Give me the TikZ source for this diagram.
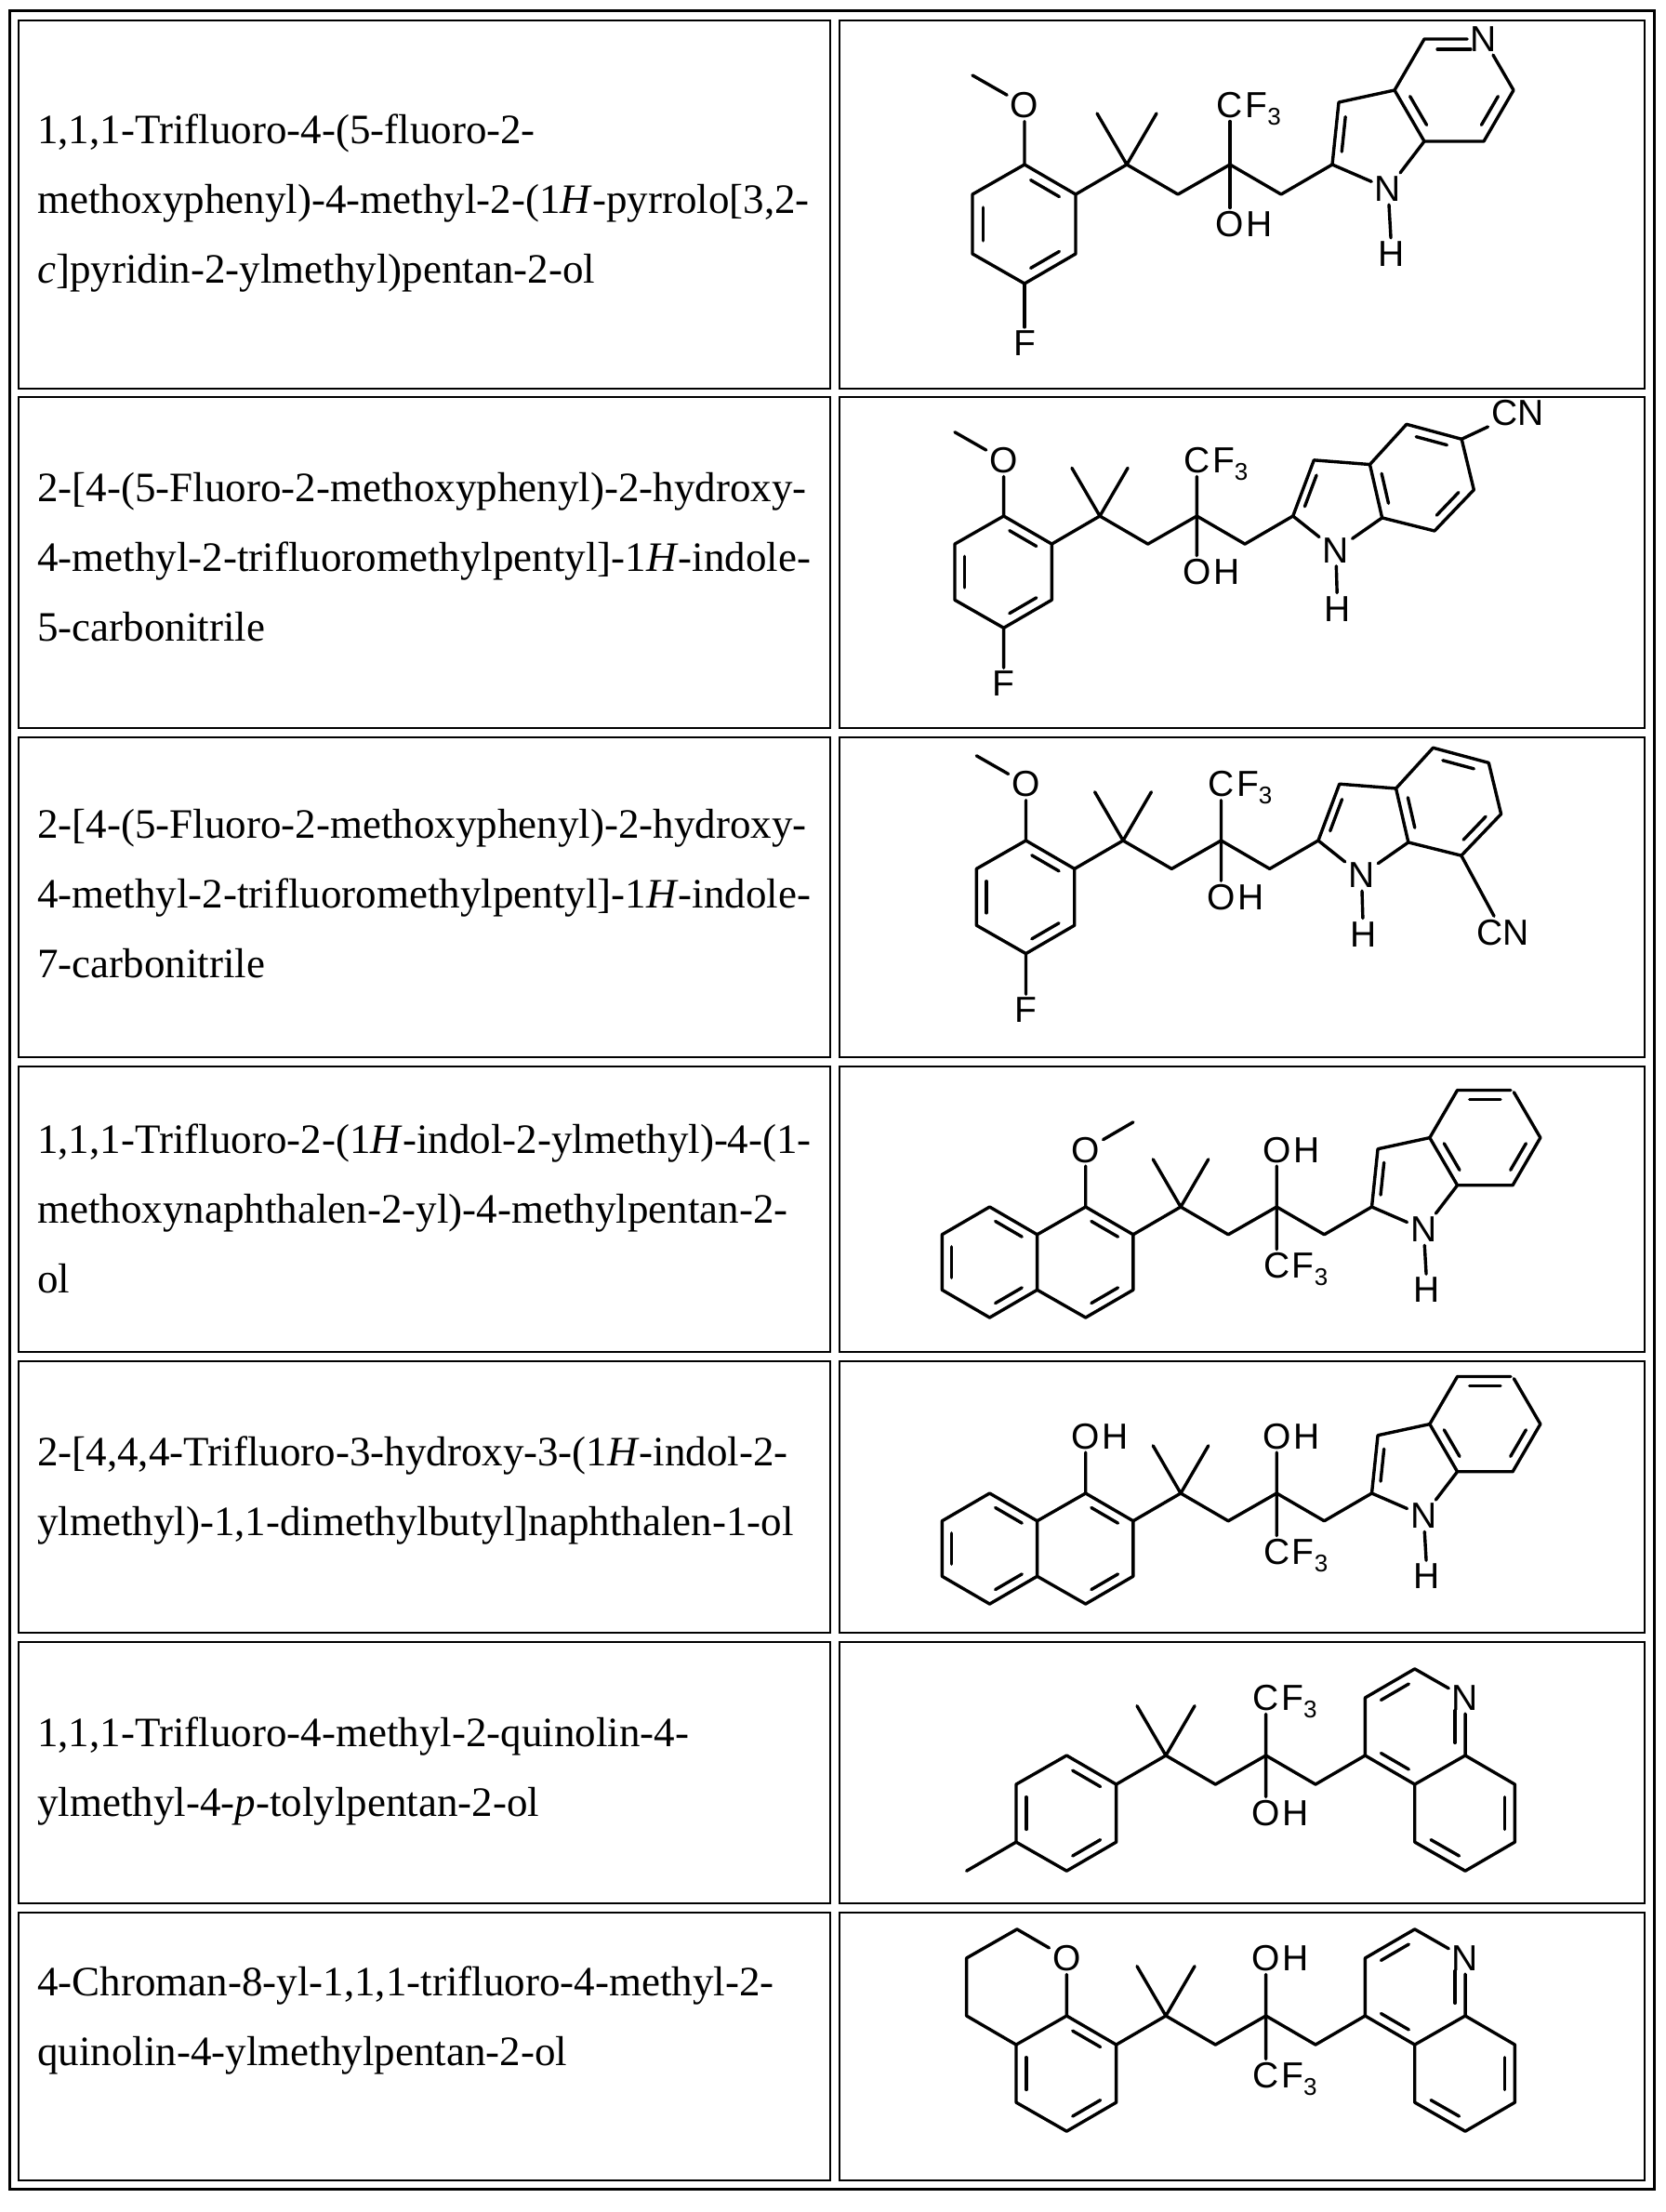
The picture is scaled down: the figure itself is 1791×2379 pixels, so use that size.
\documentclass[tikz,border=0pt]{standalone}
\usepackage{fontspec}
\setmainfont{Liberation Serif}
\newfontfamily\chemfont{Liberation Sans}
\usetikzlibrary{calc}
\newcommand\db[3]{\draw ($(#1)!0.15!(#2)!0.2!(#3)$) -- ($(#2)!0.15!(#1)!0.2!(#3)$);}
\newcommand\three{{\fontsize{26}{26}\selectfont\raisebox{-8pt}{3}}}
\tikzset{
 lab/.style={font=\chemfont\fontsize{39}{40}\selectfont, inner sep=2pt},
 bond/.style={line width=3.4pt, line cap=round, line join=round},
 txt/.style={font=\fontsize{45}{75}\selectfont, align=left, anchor=west, inner sep=0pt},
 cell/.style={line width=2.5pt}
}
% chain, Cq at origin
\newcommand\chain{%
 \coordinate (q) at (0,0);
 \coordinate (c1) at (55,32); \coordinate (co) at (111,0); \coordinate (c2) at (166,32); \coordinate (ar) at (221,0);
 \draw (q)--(-32,-55) (q)--(32,-55) (q)--(c1)--(co)--(c2)--(ar);}
\newcommand\labs[2]{%
 \node[lab] (x1) at (111,#1) {C};
 \node[lab,anchor=base west,inner sep=0pt] at ([xshift=-3pt]x1.base east) {F\three};
 \node[lab] (x2) at (111,#2) {O};
 \node[lab,anchor=base west,inner sep=0pt] at ([xshift=-3pt]x2.base east) {H};
 \draw (co)--(x1) (co)--(x2);}
\newcommand\benz{%
 \coordinate (b1) at (-110,0); \coordinate (b2) at (-55,32); \coordinate (b3) at (-55,96);
 \coordinate (b4) at (-110,128); \coordinate (b5) at (-166,96); \coordinate (b6) at (-166,32);
 \coordinate (bc) at (-110,64);
 \draw (b1)--(b2)--(b3)--(b4)--(b5)--(b6)--cycle;
 \db{b1}{b2}{bc}\db{b3}{b4}{bc}
 \draw (b2)--(q);}
\newcommand\omef{%
 \db{b6}{b5}{bc}
 \node[lab] (o) at (-110,-64) {O}; \draw (b1)--(o) (o)--(-166,-96);
 \node[lab] (f) at (-110,192) {F}; \draw (b4)--(f);}
\newcommand\naph{%
 \coordinate (l1) at (-221,0); \coordinate (l4) at (-221,128); \coordinate (l5) at (-276,96);
 \coordinate (l6) at (-276,32); \coordinate (lc) at (-221,64);
 \draw (b6)--(l1)--(l6)--(l5)--(l4)--(b5);
 \db{l1}{b6}{lc}\db{l6}{l5}{lc}\db{l4}{b5}{lc}}
\newcommand\indA[2]{%
 \coordinate (i2) at (221,0); \coordinate (i3) at (228,-67); \coordinate (i3a) at (288,-80);
 \coordinate (i4) at (320,-135); \coordinate (i6) at (416,-80); \coordinate (i7) at (384,-25);
 \coordinate (i7a) at (320,-25); \coordinate (hc) at (352,-80); \coordinate (pc) at (268,-29);
 \node[lab,inner sep=#2] (i5) at (384,-135) {#1};
 \node[lab] (n1) at (281,26) {N}; \node[lab] (h) at (285,96) {H};
 \draw (i2)--(i3)--(i3a)--(i4)--(i5)--(i6)--(i7)--(i7a)--(n1)--(i2) (i3a)--(i7a) (n1)--(h);
 \db{i2}{i3}{pc}\db{i3a}{i7a}{hc}\db{i4}{i5}{hc}\db{i6}{i7}{hc}}
\newcommand\indB{%
 \coordinate (i2) at (221,0); \coordinate (i3) at (245,-64); \coordinate (i3a) at (309,-59);
 \coordinate (i4) at (351,-105); \coordinate (i5) at (414,-88); \coordinate (i6) at (428,-30);
 \coordinate (i7) at (383,17); \coordinate (i7a) at (323,2);
 \coordinate (hc) at (368,-44); \coordinate (pc) at (274,-16);
 \node[lab] (n1) at (270,39) {N}; \node[lab] (h) at (272,106) {H};
 \draw (i2)--(i3)--(i3a)--(i4)--(i5)--(i6)--(i7)--(i7a)--(n1)--(i2) (i3a)--(i7a) (n1)--(h);
 \db{i2}{i3}{pc}\db{i3a}{i7a}{hc}\db{i4}{i5}{hc}\db{i6}{i7}{hc}}
\newcommand\quin{%
 \coordinate (q4) at (221,0); \coordinate (q3) at (221,-64); \coordinate (q2) at (276,-96);
 \node[lab] (qn) at (332,-64) {N};
 \coordinate (q8a) at (332,0); \coordinate (q4a) at (276,32); \coordinate (k1) at (276,-32);
 \coordinate (q8) at (387,32); \coordinate (q7) at (387,96); \coordinate (q6) at (332,128);
 \coordinate (q5) at (276,96); \coordinate (k2) at (332,64);
 \draw (q4)--(q3)--(q2)--(qn)--(q8a)--(q4a)--(q4) (q8a)--(q8)--(q7)--(q6)--(q5)--(q4a);
 \db{q3}{q2}{k1}\db{qn}{q8a}{k1}\db{q4}{q4a}{k1}\db{q5}{q6}{k2}\db{q7}{q8}{k2}}
\begin{document}
\begin{tikzpicture}[x=1pt,y=-1pt]
\useasboundingbox (0,0) rectangle (1791,2379);
\fill[white] (0,0) rectangle (1791,2379);
% table
\draw[line width=3pt] (10,12) rectangle (1779,2354);
\foreach \t/\b in {22/418,427/783,793/1137,1147/1454,1464/1756,1766/2047,2057/2345}{
 \draw[cell] (20,\t) rectangle (893,\b);
 \draw[cell] (903,\t) rectangle (1769,\b);}
% names
\node[txt] (t1) at (40,219) {1,1,1-Trifluoro-4-(5-fluoro-2-\\methoxyphenyl)-4-methyl-2-(1\textit{H}-pyrrolo[3,2-\\\textit{c}]pyridin-2-ylmethyl)pentan-2-ol};
\node[txt] (t2) at (40,599) {2-[4-(5-Fluoro-2-methoxyphenyl)-2-hydroxy-\\4-methyl-2-trifluoromethylpentyl]-1\textit{H}-indole-\\5-carbonitrile};
\node[txt] (t3) at (40,961) {2-[4-(5-Fluoro-2-methoxyphenyl)-2-hydroxy-\\4-methyl-2-trifluoromethylpentyl]-1\textit{H}-indole-\\7-carbonitrile};
\node[txt] (t4) at (40,1300) {1,1,1-Trifluoro-2-(1\textit{H}-indol-2-ylmethyl)-4-(1-\\methoxynaphthalen-2-yl)-4-methylpentan-2-\\ol};
\node[txt] (t5) at (40,1603) {2-[4,4,4-Trifluoro-3-hydroxy-3-(1\textit{H}-indol-2-\\ylmethyl)-1,1-dimethylbutyl]naphthalen-1-ol};
\node[txt] (t6) at (40,1905) {1,1,1-Trifluoro-4-methyl-2-quinolin-4-\\ylmethyl-4-\textit{p}-tolylpentan-2-ol};
\node[txt] (t7) at (40,2173) {4-Chroman-8-yl-1,1,1-trifluoro-4-methyl-2-\\quinolin-4-ylmethylpentan-2-ol};
% row 1
\begin{scope}[shift={(1212,177)},bond]
 \chain \labs{-64}{64} \benz \omef \indA{N}{2pt}
\end{scope}
% row 2
\begin{scope}[shift={(1183,555)},scale=0.94,bond]
 \chain \labs{-64}{64} \benz \omef \indB
 \node[lab] (cn) at (478,-118) {CN}; \draw (i5)--(cn);
\end{scope}
% row 3
\begin{scope}[shift={(1208,904)},scale=0.95,bond]
 \chain \labs{-64}{64} \benz \omef \indB
 \node[lab] (cn) at (430,104) {CN}; \draw (i7)--(cn);
\end{scope}
% row 4
\begin{scope}[shift={(1270,1298)},scale=0.93,bond]
 \chain \labs{68}{-66} \benz \naph \indA{}{0pt}
 \node[lab] (o) at (-110,-66) {O}; \draw (b1)--(o) (o)--(-55,-98);
\end{scope}
% row 5
\begin{scope}[shift={(1270,1606)},scale=0.93,bond]
 \chain \labs{68}{-66} \benz \naph \indA{}{0pt}
 \node[lab] (o) at (-110,-66) {O};
 \node[lab,anchor=base west,inner sep=0pt] at ([xshift=-3pt]o.base east) {H};
 \draw (b1)--(o);
\end{scope}
% row 6
\begin{scope}[shift={(1254,1888)},scale=0.97,bond]
 \chain \labs{-64}{64} \benz \db{b6}{b5}{bc} \quin
 \draw (b5)--(-221,128);
\end{scope}
% row 7
\begin{scope}[shift={(1254,2168)},scale=0.97,bond]
 \chain \labs{66}{-64} \benz \db{b6}{b5}{bc} \quin
 \node[lab] (o) at (-110,-64) {O};
 \draw (b1)--(o)--(-165,-96)--(-221,-64)--(-221,0)--(b6);
\end{scope}
\end{tikzpicture}
\end{document}
